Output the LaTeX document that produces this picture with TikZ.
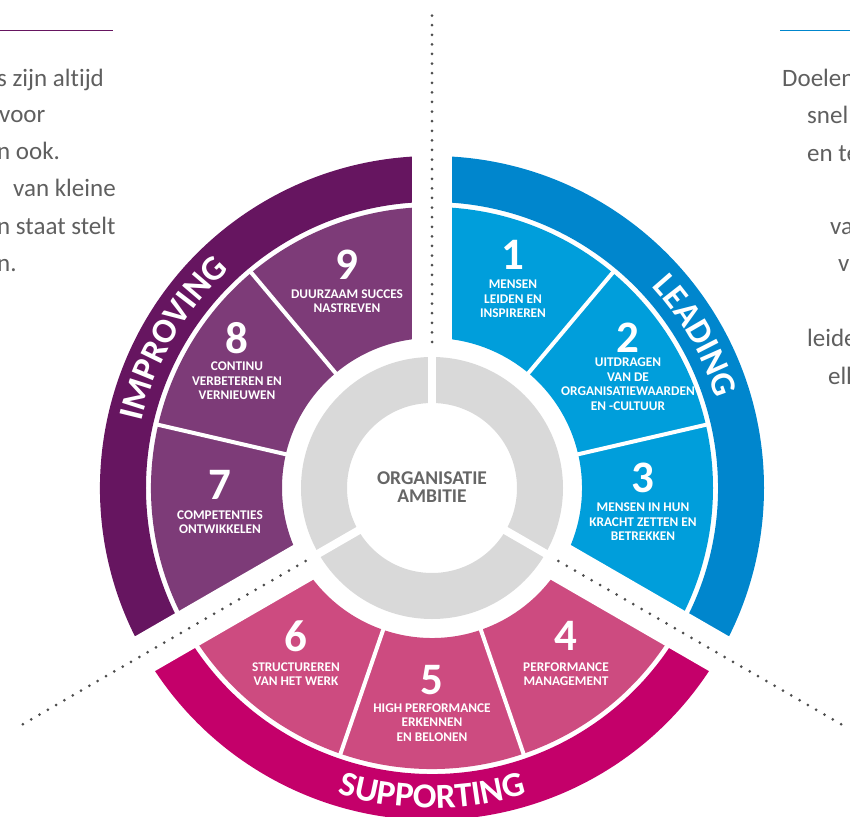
\documentclass[tikz,border=0pt]{standalone}
\usepackage{fontspec}
\setmainfont{Carlito}[Ligatures=NoCommon]
\usetikzlibrary{decorations.text}

\definecolor{leaddark}{RGB}{0,134,205}
\definecolor{leadlight}{RGB}{0,158,219}
\definecolor{impdark}{RGB}{102,21,96}
\definecolor{implight}{RGB}{125,59,120}
\definecolor{supdark}{RGB}{196,0,106}
\definecolor{suplight}{RGB}{205,75,128}
\definecolor{ringgray}{RGB}{217,217,217}
\definecolor{dotgray}{RGB}{77,77,77}
\definecolor{bodygray}{RGB}{95,95,95}
\definecolor{ambgray}{RGB}{102,102,102}

% ring piece: colour, from angle, to angle, inner radius, outer radius
\newcommand{\ringpart}[5]{%
  \fill[#1] (#2:#4pt) arc[start angle=#2,end angle=#3,radius=#4pt]
    -- (#3:#5pt) arc[start angle=#3,end angle=#2,radius=#5pt] -- cycle;}
\newcommand{\bandfont}{\bfseries\fontsize{35}{35}\selectfont}

\tikzset{
  segnum/.style={text=white,inner sep=0pt,font=\bfseries\fontsize{45}{45}\selectfont},
  seglabel/.style={text=white,inner sep=0pt,align=center,font=\bfseries\fontsize{13.3}{14.5}\selectfont},
  centertext/.style={text=ambgray,inner sep=0pt,align=center,font=\bfseries\fontsize{19.5}{18}\selectfont},
  sidetext/.style={text=bodygray,inner sep=0pt,anchor=base west,font=\fontsize{25}{25}\selectfont},
  gapline/.style={white,line width=40pt},
  divider/.style={white,line width=4pt},
  ringcut/.style={white,line width=8pt},
  dotline/.style={dotgray,line width=3pt,line cap=round,dash pattern=on 0pt off 9.6pt},
}

\begin{document}
\begin{tikzpicture}[x=1pt,y=1pt]
\useasboundingbox (-432,-328) rectangle (418,488);

% outer bands and segments
\foreach \from/\to/\dark/\light in {-30/90/leaddark/leadlight,90/210/impdark/implight,210/330/supdark/suplight}{
  \ringpart{\dark}{\from}{\to}{286}{332}
  \ringpart{\light}{\from}{\to}{150}{281}
}
\foreach \a in {13,50,130,167,251,289}
  \draw[divider] (\a:146pt) -- (\a:284pt);
\foreach \a in {90,210,330}
  \draw[gapline] (\a:140pt) -- (\a:345pt);

% inner ring
\fill[ringgray,even odd rule] (0,0) circle[radius=131pt] circle[radius=85pt];
\foreach \a in {90,210,330}
  \draw[ringcut] (\a:80pt) -- (\a:136pt);
\foreach \a in {90,210,330}
  \draw[dotline] (\a:146pt) -- (\a:473pt);

\node[centertext] (ambitie) at (0,1) {ORGANISATIE\\AMBITIE};

% numbers
\node[segnum] (n1) at (81,233) {1};
\node[segnum] (n2) at (196,150) {2};
\node[segnum] (n3) at (211,10) {3};
\node[segnum] (n4) at (134,-148) {4};
\node[segnum] (n5) at (0,-192) {5};
\node[segnum] (n6) at (-136,-148) {6};
\node[segnum] (n7) at (-212,3) {7};
\node[segnum] (n8) at (-195,150) {8};
\node[segnum] (n9) at (-85,223) {9};

% labels
\node[seglabel] (l1) at (81,189) {MENSEN\\LEIDEN EN\\INSPIREREN};
\node[seglabel] (l2) at (196,104) {UITDRAGEN\\VAN DE\\ORGANISATIEWAARDEN\\EN -CULTUUR};
\node[seglabel] (l3) at (211,-34) {MENSEN IN HUN\\KRACHT ZETTEN EN\\BETREKKEN};
\node[seglabel] (l4) at (134,-186) {PERFORMANCE\\MANAGEMENT};
\node[seglabel] (l5) at (0,-234.5) {HIGH PERFORMANCE\\ERKENNEN\\EN BELONEN};
\node[seglabel] (l6) at (-136,-186) {STRUCTUREREN\\VAN HET WERK};
\node[seglabel] (l7) at (-212,-34) {COMPETENTIES\\ONTWIKKELEN};
\node[seglabel] (l8) at (-195,107) {CONTINU\\VERBETEREN EN\\VERNIEUWEN};
\node[seglabel] (l9) at (-85,187) {DUURZAAM SUCCES\\NASTREVEN};

% band titles
\path[decorate,decoration={text along path,text align=center,text color=white,text={|\bandfont|LEADING}}]
  (90:298pt) arc[start angle=90,end angle=-30,radius=298pt];
\path[decorate,decoration={text along path,text align=center,text color=white,text={|\bandfont|IMPROVING}}]
  (210:298pt) arc[start angle=210,end angle=90,radius=298pt];
\path[decorate,decoration={text along path,text align=center,text color=white,text={|\bandfont|SUPPORTING}}]
  (210:320pt) arc[start angle=210,end angle=330,radius=320pt];

% text columns at the sides
\draw[impdark,line width=1pt] (-432,457) -- (-319,457);
\draw[leaddark,line width=1pt] (348,457) -- (418,457);
\node[sidetext] (left1) at (-435,401) {s zijn altijd};
\node[sidetext] (left2) at (-433,365) {voor};
\node[sidetext] (left3) at (-435,328) {n ook.};
\node[sidetext] (left4) at (-419,291) {van kleine};
\node[sidetext] (left5) at (-435,253) {n staat stelt};
\node[sidetext] (left6) at (-435,216) {n.};
\node[sidetext] (right1) at (350,401) {Doelen};
\node[sidetext] (right2) at (375,364) {snel};
\node[sidetext] (right3) at (375,326) {en te};
\node[sidetext] (right4) at (398,253) {va};
\node[sidetext] (right5) at (406,216) {v};
\node[sidetext] (right6) at (375,141) {leide};
\node[sidetext] (right7) at (396,103) {elk};
\end{tikzpicture}
\end{document}
